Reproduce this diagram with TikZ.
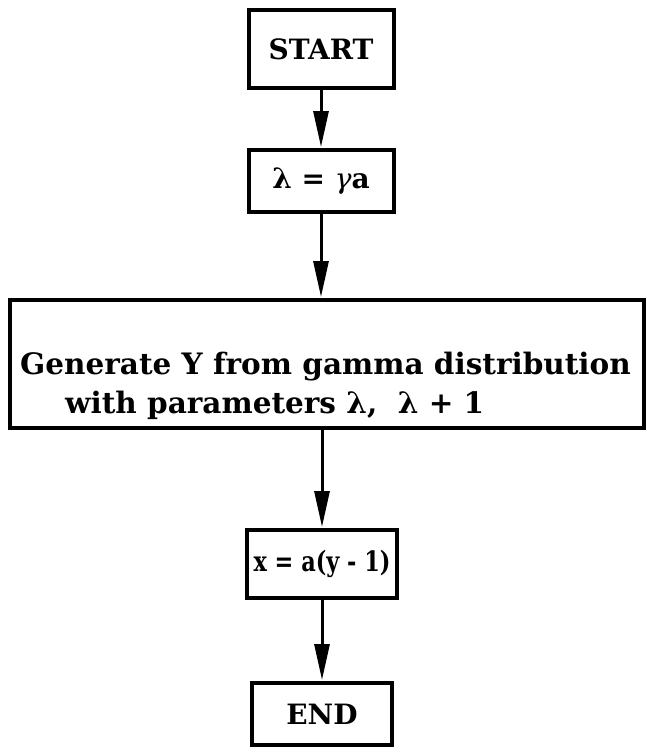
\documentclass[tikz,border=0pt]{standalone}
\usepackage{fontspec}
\usepackage{graphicx}
\setmainfont{DejaVu Serif}
\usetikzlibrary{arrows.meta}
\tikzset{
  box/.style={draw=black, line width=4pt, inner sep=0pt, font=\bfseries\fontsize{28}{32}\selectfont},
  flow/.style={line width=3pt, -{Triangle[length=36pt,width=15pt]}, shorten >=1pt},
  label/.style={font=\bfseries\fontsize{29.5}{39}\selectfont, align=left, inner sep=0pt}
}
\begin{document}
\begin{tikzpicture}[x=1pt,y=-1pt]
\useasboundingbox (0,0) rectangle (647,752);
\node[box, minimum width=145pt, minimum height=78pt] (start) at (321,49) {START};
\node[box, minimum width=145pt, minimum height=62pt] (lam) at (321,181) {λ = {\mdseries\itshape γ}a};
\node[box, minimum width=634pt, minimum height=128pt] (gen) at (327,364) {};
\node[label, anchor=west] (gentext) at (20,386) {Generate Y from gamma distribution\\\hspace*{45pt}with parameters λ,\ \ λ + 1};
\node[box, minimum width=150pt, minimum height=68pt] (xb) at (322,564) {\scalebox{0.8}[1]{x = a(y - 1)}};
\node[box, minimum width=140pt, minimum height=62pt] (end) at (322,714) {END};
\draw[flow] (start.south) -- (lam.north);
\draw[flow] (lam.south) -- (lam.south |- gen.north);
\draw[flow] (xb.north |- gen.south) -- (xb.north);
\draw[flow] (xb.south) -- (end.north);
\end{tikzpicture}
\end{document}
